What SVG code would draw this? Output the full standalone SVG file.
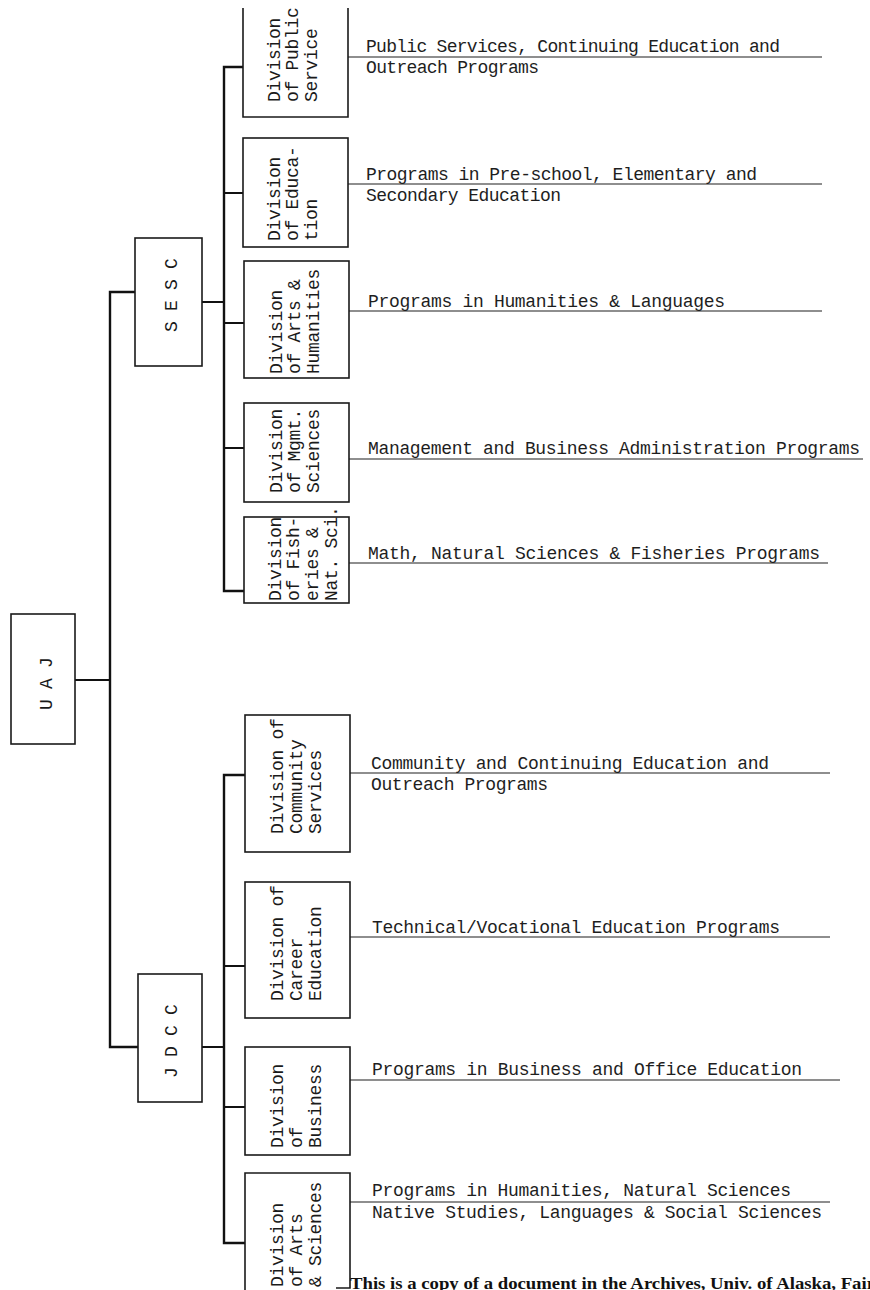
<svg xmlns="http://www.w3.org/2000/svg" width="870" height="1290" viewBox="0 0 870 1290">
<style>
.bg{fill:#ffffff}
.box{fill:none;stroke:#1a1a1a;stroke-width:1.6}
.trunk{fill:none;stroke:#111;stroke-width:2.4}
.stub{fill:none;stroke:#111;stroke-width:2}
.pline{fill:none;stroke:#1e1e1e;stroke-width:1.2}
.bt{font-family:"Liberation Mono","DejaVu Sans Mono",monospace;font-size:18px;fill:#1a1a1a;letter-spacing:-0.3px}
.pt{font-family:"Liberation Mono","DejaVu Sans Mono",monospace;font-size:18px;fill:#1e1e1e}
.foot{font-family:"Liberation Serif","Times New Roman",serif;font-size:16px;font-weight:bold;fill:#111}
</style>
<rect class="bg" x="0" y="0" width="870" height="1290"/>

<g id="connectors">
  <path class="stub" d="M75,680 H110"/>
  <path class="trunk" d="M135,292 H110 V1047 H138"/>
  <path class="stub" d="M202,302 H224"/>
  <path class="trunk" d="M243,67 H224 V591 H244"/>
  <path class="stub" d="M224,193 H243 M224,323 H244 M224,448 H244"/>
  <path class="stub" d="M202,1047 H224"/>
  <path class="trunk" d="M245,775 H224 V1243 H245"/>
  <path class="stub" d="M224,966 H245 M224,1107 H245"/>
  <path class="pline" d="M348,57 H822"/>
  <path class="pline" d="M348,184 H822"/>
  <path class="pline" d="M349,311 H822"/>
  <path class="pline" d="M349,459 H863"/>
  <path class="pline" d="M349,563 H828"/>
  <path class="pline" d="M350,773 H830"/>
  <path class="pline" d="M350,937 H830"/>
  <path class="pline" d="M350,1080 H840"/>
  <path class="pline" d="M350,1202 H830"/>
</g>

<g id="uaj">
  <rect class="box" x="11" y="614" width="64" height="130"/>
  <text class="bt" transform="translate(52,710) rotate(-90)">U A J</text>
</g>

<g id="sesc">
  <rect class="box" x="135" y="238" width="67" height="128"/>
  <text class="bt" transform="translate(177,332) rotate(-90)">S E S C</text>
</g>

<g id="jdcc">
  <rect class="box" x="138" y="974" width="64" height="128"/>
  <text class="bt" transform="translate(177,1078) rotate(-90)">J D C C</text>
</g>

<g id="div-public-service">
  <path class="box" d="M243,8 V117 H348 V8"/>
  <text class="bt" transform="translate(280,102) rotate(-90)">Division</text>
  <text class="bt" transform="translate(298,102) rotate(-90)">of Public</text>
  <text class="bt" transform="translate(317,102) rotate(-90)">Service</text>
  <text class="pt" x="366" y="52" textLength="414" lengthAdjust="spacing">Public Services, Continuing Education and</text>
  <text class="pt" x="366" y="73" textLength="173" lengthAdjust="spacing">Outreach Programs</text>
</g>

<g id="div-education">
  <rect class="box" x="243" y="138" width="105" height="109"/>
  <text class="bt" transform="translate(280,241) rotate(-90)">Division</text>
  <text class="bt" transform="translate(298,241) rotate(-90)">of Educa-</text>
  <text class="bt" transform="translate(317,241) rotate(-90)">tion</text>
  <text class="pt" x="366" y="180" textLength="391" lengthAdjust="spacing">Programs in Pre-school, Elementary and</text>
  <text class="pt" x="366" y="201" textLength="195" lengthAdjust="spacing">Secondary Education</text>
</g>

<g id="div-arts-humanities">
  <rect class="box" x="244" y="261" width="105" height="117"/>
  <text class="bt" transform="translate(282,374) rotate(-90)">Division</text>
  <text class="bt" transform="translate(300,374) rotate(-90)">of Arts &amp;</text>
  <text class="bt" transform="translate(319,374) rotate(-90)">Humanities</text>
  <text class="pt" x="368" y="307" textLength="357" lengthAdjust="spacing">Programs in Humanities &amp; Languages</text>
</g>

<g id="div-mgmt-sciences">
  <rect class="box" x="244" y="403" width="105" height="99"/>
  <text class="bt" transform="translate(282,493) rotate(-90)">Division</text>
  <text class="bt" transform="translate(300,493) rotate(-90)">of Mgmt.</text>
  <text class="bt" transform="translate(319,493) rotate(-90)">Sciences</text>
  <text class="pt" x="368" y="454" textLength="492" lengthAdjust="spacing">Management and Business Administration Programs</text>
</g>

<g id="div-fisheries">
  <rect class="box" x="244" y="517" width="105" height="86"/>
  <text class="bt" transform="translate(281,601) rotate(-90)">Division</text>
  <text class="bt" transform="translate(299,601) rotate(-90)">of Fish-</text>
  <text class="bt" transform="translate(318,601) rotate(-90)">eries &amp;</text>
  <text class="bt" transform="translate(337,601) rotate(-90)">Nat. Sci.</text>
  <text class="pt" x="368" y="559" textLength="452" lengthAdjust="spacing">Math, Natural Sciences &amp; Fisheries Programs</text>
</g>

<g id="div-community-services">
  <rect class="box" x="245" y="715" width="105" height="137"/>
  <text class="bt" transform="translate(283,834) rotate(-90)">Division of</text>
  <text class="bt" transform="translate(302,834) rotate(-90)">Community</text>
  <text class="bt" transform="translate(321,834) rotate(-90)">Services</text>
  <text class="pt" x="371" y="769" textLength="398" lengthAdjust="spacing">Community and Continuing Education and</text>
  <text class="pt" x="371" y="790" textLength="177" lengthAdjust="spacing">Outreach Programs</text>
</g>

<g id="div-career-education">
  <rect class="box" x="245" y="882" width="105" height="136"/>
  <text class="bt" transform="translate(283,1001) rotate(-90)">Division of</text>
  <text class="bt" transform="translate(302,1001) rotate(-90)">Career</text>
  <text class="bt" transform="translate(321,1001) rotate(-90)">Education</text>
  <text class="pt" x="372" y="933" textLength="408" lengthAdjust="spacing">Technical/Vocational Education Programs</text>
</g>

<g id="div-business">
  <rect class="box" x="245" y="1047" width="105" height="108"/>
  <text class="bt" transform="translate(283,1148) rotate(-90)">Division</text>
  <text class="bt" transform="translate(302,1148) rotate(-90)">of</text>
  <text class="bt" transform="translate(321,1148) rotate(-90)">Business</text>
  <text class="pt" x="372" y="1075" textLength="430" lengthAdjust="spacing">Programs in Business and Office Education</text>
</g>

<g id="div-arts-sciences">
  <path class="box" d="M336,1288 H350 V1173 H245 V1290"/>
  <text class="bt" transform="translate(283,1287) rotate(-90)">Division</text>
  <text class="bt" transform="translate(302,1287) rotate(-90)">of Arts</text>
  <text class="bt" transform="translate(321,1287) rotate(-90)">&amp; Sciences</text>
  <text class="pt" x="372" y="1196" textLength="419" lengthAdjust="spacing">Programs in Humanities, Natural Sciences</text>
  <text class="pt" x="372" y="1218" textLength="450" lengthAdjust="spacing">Native Studies, Languages &amp; Social Sciences</text>
</g>

<text class="foot" x="350" y="1289" textLength="525" lengthAdjust="spacingAndGlyphs">This is a copy of a document in the Archives, Univ. of Alaska, Fair</text>
</svg>
